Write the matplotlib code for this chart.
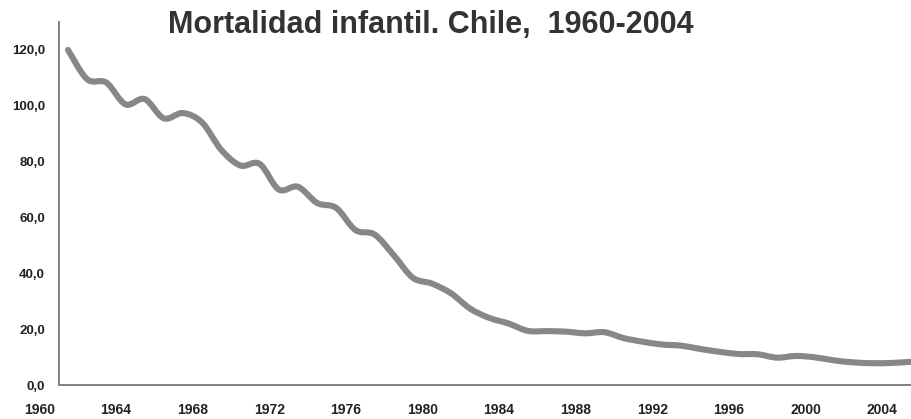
import matplotlib
matplotlib.use("Agg")
import matplotlib.pyplot as plt
from matplotlib.path import Path
from matplotlib.patches import PathPatch
import matplotlib.transforms as mtransforms
import numpy as np

plt.rcParams['font.family'] = ['Liberation Sans', 'DejaVu Sans']

title = "Mortalidad infantil. Chile,  1960-2004"

years = list(range(1960, 2005))
mortality = [120.0, 109.5, 108.3, 100.5, 102.4, 95.5, 97.4, 94.0, 84.2, 78.6,
             79.2, 70.0, 71.0, 65.2, 63.4, 55.5, 53.9, 46.5, 38.4, 36.3,
             32.8, 27.3, 24.0, 22.0, 19.4, 19.3, 19.1, 18.5, 18.9, 16.8,
             15.5, 14.5, 14.1, 12.9, 11.9, 11.1, 11.0, 9.8, 10.4, 9.9,
             8.8, 8.1, 7.8, 7.9, 8.3]

x_labels = ["1960", "1964", "1968", "1972", "1976", "1980",
            "1984", "1988", "1992", "1996", "2000", "2004"]
y_ticks = [0, 20, 40, 60, 80, 100, 120]
y_tick_labels = ["0,0", "20,0", "40,0", "60,0", "80,0", "100,0", "120,0"]

fig = plt.figure(figsize=(9.11, 4.19), dpi=100)
ax = fig.add_axes([59/911, 34/419, 1 - 59/911, (385 - 22)/419])

# smoothed line (Catmull-Rom -> cubic Bezier), as Excel's smoothed line
x = np.array(years, dtype=float)
y = np.array(mortality, dtype=float)
pts = np.column_stack([x, y])
n = len(pts)
verts = [pts[0]]
codes = [Path.MOVETO]
for i in range(n - 1):
    p0 = pts[i - 1] if i > 0 else pts[i]
    p1 = pts[i]
    p2 = pts[i + 1]
    p3 = pts[i + 2] if i + 2 < n else pts[i + 1]
    c1 = p1 + (p2 - p0) / 6.0
    c2 = p2 - (p3 - p1) / 6.0
    verts += [c1, c2, p2]
    codes += [Path.CURVE4] * 3
path = Path(verts, codes)
patch = PathPatch(path, fill=False, edgecolor='#878787', linewidth=4.4,
                  capstyle='round', joinstyle='round')
ax.add_patch(patch)

ax.set_xlim(years[0] - 0.47, years[-1])
ax.set_ylim(0, 130)

ax.set_yticks(y_ticks)
ax.set_yticklabels(y_tick_labels, fontsize=9.5, fontweight='bold', color='#222222')
ax.tick_params(axis='y', length=0, pad=10)
ax.set_xticks([])

trans = mtransforms.blended_transform_factory(ax.transData, ax.transAxes)
for lab in x_labels:
    ax.text(int(lab) - 1.5, -25/363, lab, transform=trans, ha='center', va='center',
            fontsize=10, fontweight='bold', color='#222222', clip_on=False)

for s in ['top', 'right']:
    ax.spines[s].set_visible(False)
for s in ['left', 'bottom']:
    ax.spines[s].set_color('#808080')
    ax.spines[s].set_linewidth(1.4)

fig.text(431/911, 1 - 24.5/419, title, ha='center', va='center',
         fontsize=22, fontweight='bold', color='#333333')

fig.savefig("out.png", dpi=100)
